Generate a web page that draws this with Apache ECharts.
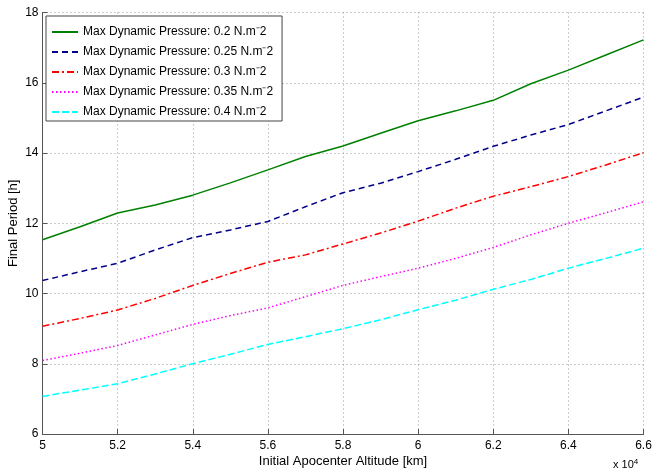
<!DOCTYPE html>
<html>
<head>
<meta charset="utf-8">
<script src="https://cdn.jsdelivr.net/npm/echarts@6/dist/echarts.min.js"></script>
<style>
  html, body { margin: 0; padding: 0; background: #fff; }
  #chart { width: 655px; height: 470px; }
</style>
</head>
<body>
<div id="chart"></div>
<script>
// Initial apocenter altitude [km]
const altitudes = [50000, 51000, 52000, 53000, 54000, 55000, 56000, 57000, 58000,
                   59000, 60000, 61000, 62000, 63000, 64000, 65000, 66000];

// Max dynamic pressure per curve [N.m^-2]
const pressures = [0.2, 0.25, 0.3, 0.35, 0.4];

// Final period [h] for each dynamic pressure
const period02  = [11.53, 11.90, 12.29, 12.52, 12.80, 13.15, 13.52, 13.90, 14.20,
                   14.56, 14.92, 15.20, 15.50, 15.97, 16.36, 16.79, 17.22];
const period025 = [10.37, 10.62, 10.86, 11.24, 11.59, 11.81, 12.05, 12.47, 12.87,
                   13.14, 13.47, 13.82, 14.19, 14.51, 14.81, 15.20, 15.59];
const period03  = [9.07, 9.29, 9.53, 9.86, 10.23, 10.57, 10.89, 11.10, 11.41,
                   11.72, 12.06, 12.43, 12.77, 13.04, 13.33, 13.66, 14.01];
const period035 = [8.09, 8.30, 8.52, 8.82, 9.12, 9.37, 9.59, 9.91, 10.23,
                   10.48, 10.72, 11.00, 11.31, 11.67, 12.00, 12.30, 12.61];
const period04  = [7.07, 7.25, 7.43, 7.71, 8.00, 8.27, 8.55, 8.77, 9.00,
                   9.25, 9.54, 9.81, 10.12, 10.40, 10.72, 11.00, 11.29];

// Axis tick values
const xTicks = [50000, 52000, 54000, 56000, 58000, 60000, 62000, 64000, 66000];
const yTicks = [6, 8, 10, 12, 14, 16, 18];

const periods = [period02, period025, period03, period035, period04];
const lineColors = ['#008000', '#00008b', '#ff0000', '#ff00ff', '#00ffff'];
const lineDashes = ['solid', [6, 4], [7, 3, 2, 3], [1.5, 2.5], [7, 3]];

const FONT = '"Liberation Sans", Arial, Helvetica, sans-serif';

const seriesList = pressures.map(function (p, i) {
  return {
    name: 'Max Dynamic Pressure: ' + p + ' N.m\u207B2',
    type: 'line',
    symbol: 'none',
    smooth: false,
    animation: false,
    lineStyle: { color: lineColors[i], width: 1.5, type: lineDashes[i] },
    itemStyle: { color: lineColors[i] },
    data: altitudes.map(function (a, j) { return [a, periods[i][j]]; })
  };
});

const chart = echarts.init(document.getElementById('chart'), null, { renderer: 'canvas' });

chart.setOption({
  backgroundColor: '#ffffff',
  animation: false,
  textStyle: { fontFamily: FONT },
  grid: {
    left: 42.5, right: 11.5, top: 12.5, bottom: 36,
    containLabel: false,
    outerBoundsMode: 'none'
  },
  legend: {
    orient: 'vertical',
    left: 46,
    top: 16,
    padding: [10, 9, 3, 5],
    itemWidth: 26,
    itemHeight: 14,
    itemGap: 8,
    backgroundColor: '#ffffff',
    borderColor: '#444',
    borderWidth: 1,
    borderRadius: 0,
    // only the line sample is shown in each legend key
    itemStyle: { opacity: 0 },
    data: seriesList.map(function (s) { return s.name; }),
    textStyle: { fontFamily: FONT, fontSize: 12, color: '#000' }
  },
  xAxis: {
    type: 'value',
    min: xTicks[0],
    max: xTicks[xTicks.length - 1],
    interval: xTicks[1] - xTicks[0],
    name: 'Initial Apocenter Altitude [km]',
    nameLocation: 'middle',
    nameGap: 21,
    nameMoveOverlap: false,
    nameTextStyle: { fontFamily: FONT, fontSize: 13, color: '#000' },
    axisLine: { show: true, lineStyle: { color: '#555', width: 1 } },
    axisTick: { show: true, inside: true, length: 5, lineStyle: { color: '#555' } },
    axisLabel: {
      fontFamily: FONT, fontSize: 12, color: '#000', margin: 6,
      formatter: function (v) { return String(Math.round(v / 1000) / 10); }
    },
    splitLine: { show: true, lineStyle: { color: '#999', width: 1, type: [1, 3] } }
  },
  yAxis: {
    type: 'value',
    min: yTicks[0],
    max: yTicks[yTicks.length - 1],
    interval: yTicks[1] - yTicks[0],
    name: 'Final Period [h]',
    nameLocation: 'middle',
    nameGap: 23,
    nameMoveOverlap: false,
    nameTextStyle: { fontFamily: FONT, fontSize: 13, color: '#000' },
    axisLine: { show: true, lineStyle: { color: '#555', width: 1 } },
    axisTick: { show: true, inside: true, length: 5, lineStyle: { color: '#555' } },
    axisLabel: { fontFamily: FONT, fontSize: 12, color: '#000', margin: 4 },
    splitLine: { show: true, lineStyle: { color: '#999', width: 1, type: [1, 3] } }
  },
  graphic: [{
    type: 'text',
    left: 613,
    top: 458,
    style: {
      text: '{a|x 10}{b|4}',
      rich: {
        a: { fontFamily: FONT, fontSize: 11, fill: '#000', lineHeight: 14 },
        b: { fontFamily: FONT, fontSize: 8, fill: '#000', verticalAlign: 'top', lineHeight: 14 }
      }
    }
  }],
  series: seriesList
});
</script>
</body>
</html>
